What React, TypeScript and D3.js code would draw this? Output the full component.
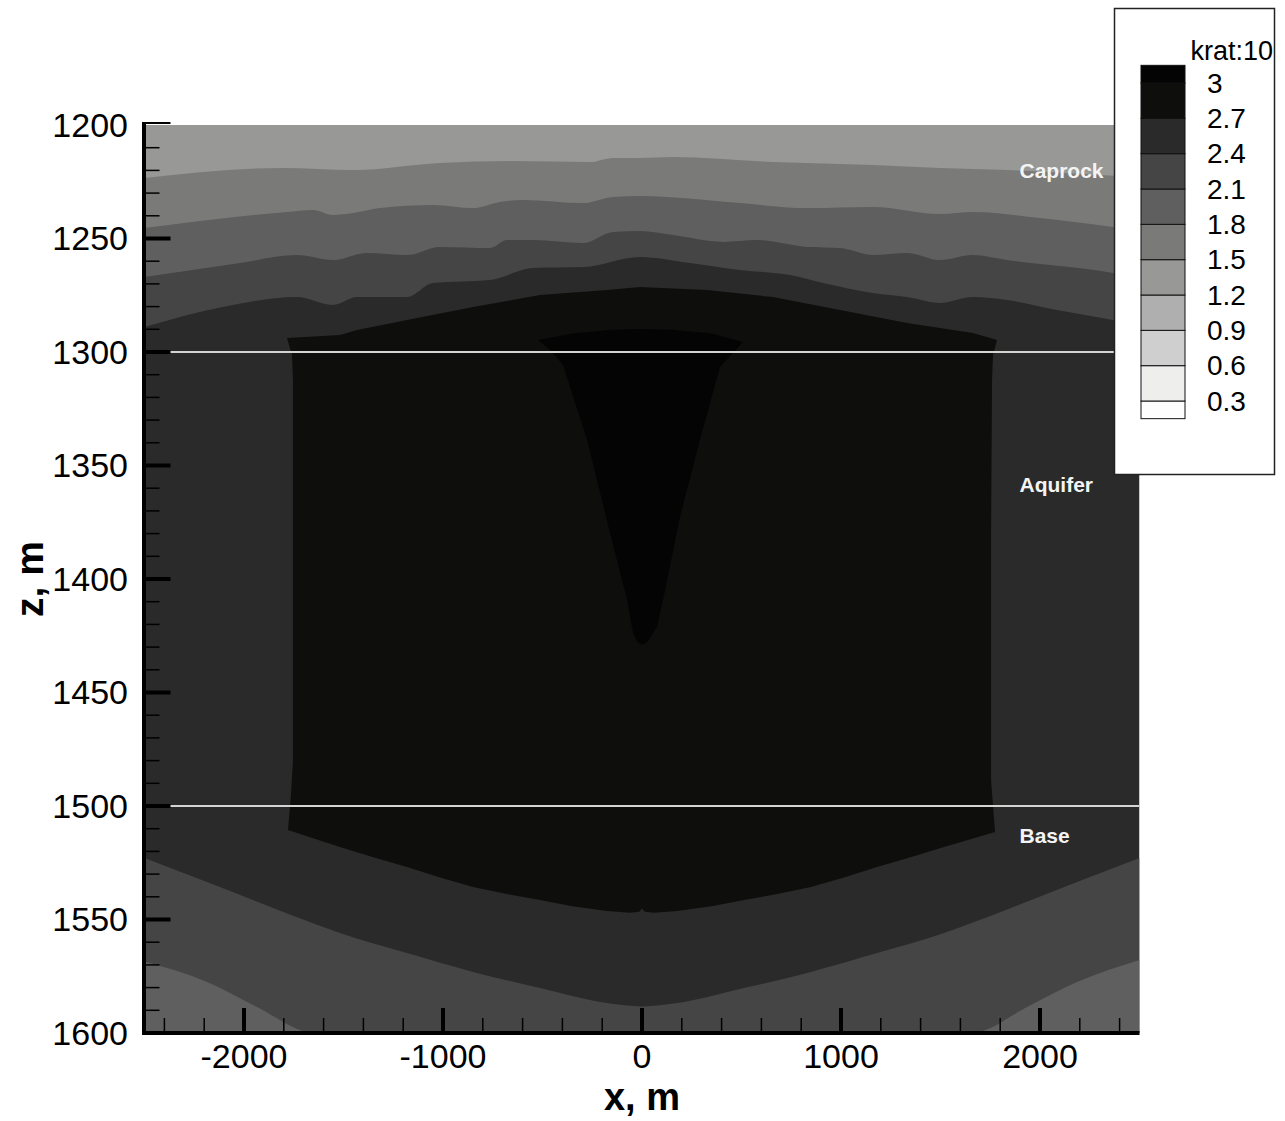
import React from "react";
import * as d3 from "d3";

// Domain of the section
const xDomain: [number, number] = [-2500, 2500];
const zDomain: [number, number] = [1200, 1600];

const xMajorTicks = [-2000, -1000, 0, 1000, 2000];
const xMinorTicks = [-2400, -2200, -1800, -1600, -1400, -1200, -800, -600, -400, -200, 200, 400, 600, 800, 1200, 1400, 1600, 1800, 2200, 2400];
const zMajorTicks = [1200, 1250, 1300, 1350, 1400, 1450, 1500, 1550, 1600];

// Contour levels of krat and the fill of each band (lowest band first)
const levels = [0.3, 0.6, 0.9, 1.2, 1.5, 1.8, 2.1, 2.4, 2.7, 3.0];
const levelLabels = ["0.3", "0.6", "0.9", "1.2", "1.5", "1.8", "2.1", "2.4", "2.7", "3"];
const bandColors = ["#fdfdfd", "#eeeeec", "#cfcfcf", "#afafaf", "#989896", "#7a7a78", "#5f5f5f", "#454545", "#2a2a2a", "#0e0f0d", "#040404"];

// Contour lines in the caprock, [x, z]
const cap15: [number, number][] = [
  [-2500, 1223.3], [-1804, 1218.9], [-1452, 1219.8], [-1015, 1216.7], [-648, 1215.9], [-261, 1216.3],
  [-146, 1214.5], [-10, 1214.5], [156, 1214.1], [658, 1216.3], [1161, 1217.6], [1497, 1218.9],
  [1834, 1219.8], [2200, 1221.5], [2500, 1223.0],
];
const cap18: [number, number][] = [
  [-2500, 1245.4], [-1784, 1238.3], [-1653, 1237.4], [-1553, 1239.6], [-1452, 1238.8], [-1317, 1236.6],
  [-1050, 1235.2], [-849, 1236.6], [-714, 1233.9], [-598, 1233.0], [-296, 1234.4], [-146, 1231.7],
  [-10, 1231.3], [126, 1231.7], [492, 1234.4], [829, 1236.6], [1161, 1236.1], [1497, 1239.2],
  [1663, 1238.3], [2000, 1241.0], [2367, 1244.9], [2500, 1246.3],
];
const cap21: [number, number][] = [
  [-2500, 1267.0], [-2020, 1260.8], [-1734, 1257.3], [-1553, 1259.5], [-1382, 1256.4], [-1181, 1257.3],
  [-1015, 1253.7], [-764, 1254.2], [-678, 1250.7], [-548, 1250.7], [-296, 1252.0], [-146, 1247.1],
  [-10, 1246.7], [156, 1248.5], [407, 1251.5], [578, 1250.7], [829, 1253.7], [995, 1254.2],
  [1161, 1257.3], [1332, 1256.4], [1497, 1259.5], [1663, 1257.3], [1834, 1259.5], [2367, 1265.2],
  [2500, 1267.4],
];
const cap24: [number, number][] = [
  [-2500, 1289.0], [-2108, 1280.2], [-1734, 1275.8], [-1553, 1279.3], [-1432, 1275.8], [-1181, 1275.8],
  [-1050, 1269.6], [-764, 1268.3], [-548, 1263.0], [-296, 1262.6], [-10, 1258.1], [241, 1260.8],
  [492, 1263.9], [744, 1266.1], [910, 1269.6], [1161, 1274.0], [1332, 1275.8], [1497, 1278.4],
  [1663, 1275.8], [1834, 1277.1], [2085, 1281.5], [2367, 1285.9], [2500, 1288.1],
];

// Contour lines below the base
const base24: [number, number][] = [
  [-2500, 1522.9], [-2186, 1533.5], [-1854, 1544.9], [-1518, 1555.9], [-1181, 1564.8], [-849, 1573.1],
  [-513, 1580.2], [-176, 1586.8], [0, 1588.3], [176, 1586.8], [513, 1580.2], [849, 1573.1],
  [1181, 1564.8], [1518, 1555.9], [1854, 1544.9], [2186, 1533.5], [2500, 1522.9],
];
const base21Left: [number, number][] = [
  [-2500, 1568.5], [-2186, 1577.5], [-1935, 1588.5], [-1683, 1599.6], [-1660, 1600],
];
const base21Right: [number, number][] = [
  [1670, 1600], [1693, 1599.6], [1935, 1588.5], [2186, 1577.5], [2500, 1567.8],
];

// Closed 2.7 contour around the aquifer plume
const plume27: [number, number][] = [
  [-1784, 1293.8], [-1518, 1292.5], [-1432, 1290.3], [-1181, 1285.9], [-849, 1280.2], [-513, 1274.9],
  [-176, 1272.7], [-10, 1271.4], [327, 1272.7], [658, 1275.8], [995, 1281.5], [1332, 1287.2],
  [1663, 1291.6], [1784, 1294.7], [1764, 1301.3], [1759, 1312.3], [1754, 1382.8], [1754, 1488.5],
  [1764, 1500], [1774, 1511.5], [1518, 1518.1], [1350, 1522.6], [1181, 1526.9], [1015, 1531.5],
  [849, 1535.7], [680, 1538.8], [513, 1541.4], [350, 1544.2], [176, 1546.3], [60, 1547], [14, 1546.6],
  [0, 1545.2], [-14, 1546.6], [-60, 1547], [-176, 1546.3], [-350, 1544.2], [-513, 1541.4], [-680, 1538.8],
  [-849, 1535.7], [-1015, 1531.5], [-1181, 1526.9], [-1350, 1522.6], [-1518, 1518.1], [-1779, 1510.6],
  [-1764, 1495], [-1754, 1480], [-1754, 1400], [-1754, 1312.3], [-1759, 1301.3],
];

// Closed 3.0 contour around the injection cone
const cone30: [number, number][] = [
  [-523, 1294.7], [-350, 1291.8], [-150, 1290.2], [0, 1289.9], [150, 1290.2], [350, 1291.8],
  [508, 1295.6], [457, 1300.4], [392, 1306.6], [291, 1338.8], [191, 1372.7], [106, 1409.3],
  [75, 1421.1], [30, 1427.5], [0, 1429.1], [-25, 1427.5], [-45, 1423.8], [-75, 1409.3],
  [-161, 1379.7], [-276, 1338.8], [-397, 1305.7], [-462, 1299.1],
];

// Formation boundaries and their names
const layerBoundaries = [1300, 1500];
const layerNames = ["Caprock", "Aquifer", "Base"];
const layerNameZ = [1223.3, 1361.7, 1516.3];
const layerNameX = 1897;

const FONT = "'Liberation Sans', Arial, sans-serif";

const bandOf = (level: number) => Math.round(level / 0.3);

export default function App() {
  const left = 144.5, top = 125, width = 995, height = 908;
  const x = d3.scaleLinear().domain(xDomain).range([left, left + width]);
  const y = d3.scaleLinear().domain(zDomain).range([top, top + height]);

  const topArea = d3
    .area<[number, number]>()
    .x((d) => x(d[0]))
    .y0(y(zDomain[0]))
    .y1((d) => y(d[1]))
    .curve(d3.curveMonotoneX);
  const bottomArea = d3
    .area<[number, number]>()
    .x((d) => x(d[0]))
    .y0(y(zDomain[1]))
    .y1((d) => y(d[1]))
    .curve(d3.curveMonotoneX);
  const closed = d3
    .line<[number, number]>()
    .x((d) => x(d[0]))
    .y((d) => y(d[1]))
    .curve(d3.curveLinearClosed);

  // caprock contours painted deepest first; each fills the band above it
  const capContours: [number, [number, number][]][] = [
    [2.4, cap24],
    [2.1, cap21],
    [1.8, cap18],
    [1.5, cap15],
  ];

  // legend geometry
  const legY = d3.scaleLinear().domain([3.0, 0.3]).range([83, 401]);
  const half = 0.15;
  const legendBands = bandColors.map((c, i) => {
    const lo = i === 0 ? levels[0] - half : levels[i - 1];
    const hi = i === bandColors.length - 1 ? levels[levels.length - 1] + half : levels[i];
    return { c, y0: legY(hi), y1: legY(lo) };
  });

  return (
    <svg
      width={1285}
      height={1121}
      style={{ position: "absolute", left: 0, top: 0, background: "#fff" }}
      fontFamily={FONT}
    >
      <defs>
        <clipPath id="plotClip">
          <rect x={left} y={top} width={width} height={height} />
        </clipPath>
      </defs>

      <g clipPath="url(#plotClip)">
        <rect x={left} y={top} width={width} height={height} fill={bandColors[bandOf(2.4)]} />
        {capContours.map(([lvl, pts]) => (
          <path key={"cap" + lvl} d={topArea(pts) || ""} fill={bandColors[bandOf(lvl) - 1]} />
        ))}
        <path d={bottomArea(base24) || ""} fill={bandColors[bandOf(2.4) - 1]} />
        <path d={bottomArea(base21Left) || ""} fill={bandColors[bandOf(2.1) - 1]} />
        <path d={bottomArea(base21Right) || ""} fill={bandColors[bandOf(2.1) - 1]} />
        <path d={closed(plume27) || ""} fill={bandColors[bandOf(2.7)]} />
        <path d={closed(cone30) || ""} fill={bandColors[bandOf(3.0)]} />

        {layerBoundaries.map((z) => (
          <line key={z} x1={left} x2={left + width} y1={y(z)} y2={y(z)} stroke="#d4d4d2" strokeWidth={2} />
        ))}

        {layerNames.map((n, i) => (
          <text
            key={n}
            x={x(layerNameX)}
            y={y(layerNameZ[i])}
            fill="#f4f4f4"
            fontSize={21}
            fontWeight="bold"
          >
            {n}
          </text>
        ))}
      </g>

      {/* left axis */}
      <line x1={left - 0.5} x2={left - 0.5} y1={top - 3} y2={top + height + 2} stroke="#000" strokeWidth={4} />
      {d3.range(1200, 1601, 10)
        .filter((v) => v % 50 !== 0)
        .map((v) => (
          <line key={"zm" + v} x1={left} x2={left + 15} y1={y(v)} y2={y(v)} stroke="#000" strokeWidth={1.5} />
        ))}
      {zMajorTicks.map((v) => (
        <g key={"zM" + v}>
          <line x1={left} x2={left + 26} y1={v === 1200 ? y(v) - 2 : y(v)} y2={v === 1200 ? y(v) - 2 : y(v)} stroke="#000" strokeWidth={v === 1200 ? 2 : 4} />
          <text x={128} y={y(v)} dy="0.35em" textAnchor="end" fontSize={34} fill="#000">
            {String(v)}
          </text>
        </g>
      ))}

      {/* bottom axis */}
      <line x1={left - 2.5} x2={left + width} y1={top + height} y2={top + height} stroke="#000" strokeWidth={4} />
      {xMinorTicks.map((v) => (
        <line key={"xm" + v} x1={x(v)} x2={x(v)} y1={top + height} y2={top + height - 15} stroke="#000" strokeWidth={1.5} />
      ))}
      {xMajorTicks.map((v) => (
        <g key={"xM" + v}>
          <line x1={x(v)} x2={x(v)} y1={top + height} y2={top + height - 25} stroke="#000" strokeWidth={4} />
          <text x={x(v)} y={1068} textAnchor="middle" fontSize={34} fill="#000">
            {String(v)}
          </text>
        </g>
      ))}

      {/* axis titles */}
      <text x={x(0)} y={1110} textAnchor="middle" fontSize={38} fontWeight="bold" fill="#000">
        x, m
      </text>
      <text
        transform={`translate(43, ${y(1400)}) rotate(-90)`}
        textAnchor="middle"
        fontSize={39}
        fontWeight="bold"
        fill="#000"
      >
        z, m
      </text>

      {/* legend */}
      <rect x={1114.5} y={8.5} width={160} height={466} fill="#fff" stroke="#222" strokeWidth={1.5} />
      <text x={1273} y={60} textAnchor="end" fontSize={27} fill="#000">
        krat:10
      </text>
      {legendBands.map((b, i) => (
        <rect
          key={"lb" + i}
          x={1141}
          y={b.y0}
          width={44}
          height={b.y1 - b.y0}
          fill={b.c}
          stroke="#111"
          strokeWidth={1}
        />
      ))}
      {levels.map((l, i) => (
        <text key={"ll" + l} x={1207} y={legY(l)} dy="0.35em" fontSize={28} fill="#000">
          {levelLabels[i]}
        </text>
      ))}
    </svg>
  );
}
